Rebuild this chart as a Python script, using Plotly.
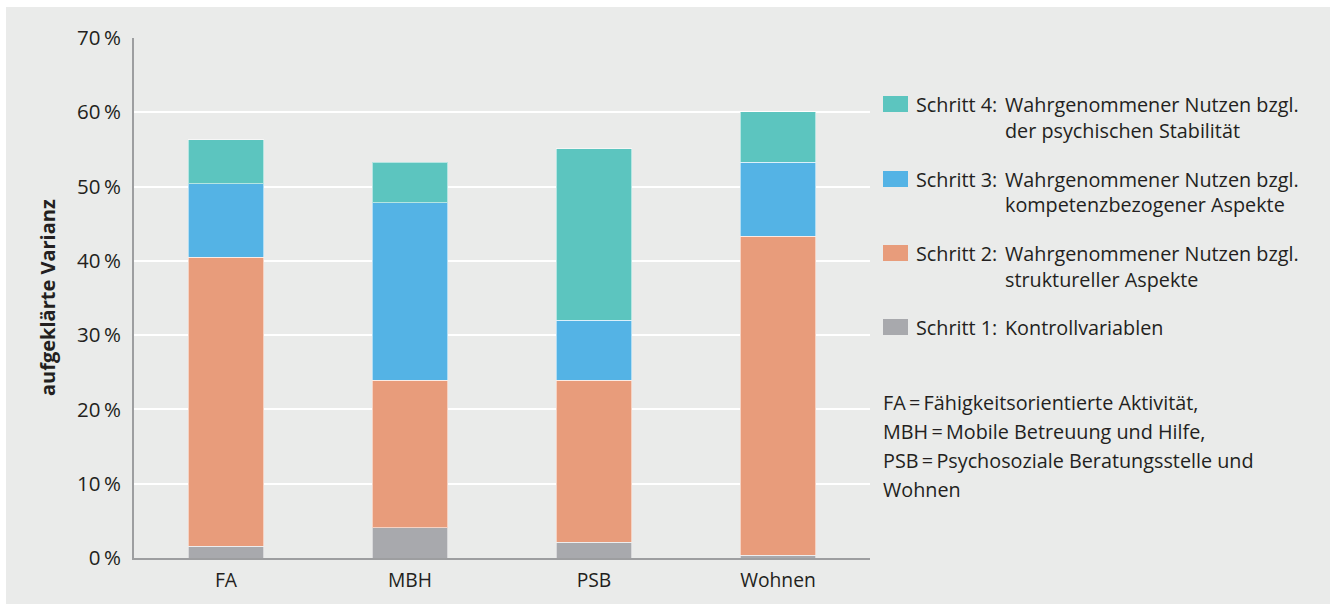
import plotly.graph_objects as go

# Explained variance (%) per service type, added per hierarchical regression step
categories = ["FA", "MBH", "PSB", "Wohnen"]
step1 = [1.6, 4.1, 2.1, 0.4]
step2 = [38.9, 19.8, 21.8, 42.9]
step3 = [9.9, 23.9, 8.1, 10.0]
step4 = [5.9, 5.5, 23.1, 6.8]

y_ticks = [0, 10, 20, 30, 40, 50, 60, 70]
y_tick_labels = [f"{v}\u2009%" for v in y_ticks]

legend_steps = ["Schritt 4:", "Schritt 3:", "Schritt 2:", "Schritt 1:"]
legend_texts = [
    ["Wahrgenommener Nutzen bzgl.", "der psychischen Stabilität"],
    ["Wahrgenommener Nutzen bzgl.", "kompetenzbezogener Aspekte"],
    ["Wahrgenommener Nutzen bzgl.", "struktureller Aspekte"],
    ["Kontrollvariablen"],
]
footnote_lines = [
    "FA\u2009=\u2009Fähigkeitsorientierte Aktivität,",
    "MBH\u2009=\u2009Mobile Betreuung und Hilfe,",
    "PSB\u2009=\u2009Psychosoziale Beratungsstelle und",
    "Wohnen",
]

colors = ["#a8a9ad", "#e89c7b", "#54b3e5", "#5cc5bf"]
FONT = "Open Sans"
TEXT = "#231f20"
BG = "#eaebea"

W, H = 1330, 605
L, R, T, B = 134, 870, 38, 558  # plot area in pixels


def px_x(px):
    return (px - L) / (R - L)


def px_y(py):
    return (B - py) / (B - T)


fig = go.Figure()
for vals, col in zip([step1, step2, step3, step4], colors):
    fig.add_trace(go.Bar(
        x=categories, y=vals,
        marker=dict(color=col, line=dict(color="rgba(255,255,255,0.55)", width=1)),
        showlegend=False,
    ))

shapes = [
    dict(type="rect", xref="paper", yref="paper",
         x0=px_x(6), x1=px_x(W + 5), y0=px_y(604), y1=px_y(7),
         fillcolor=BG, line=dict(width=0), layer="below"),
]
annotations = []

# legend swatches and labels
legend_y = [104, 179, 253, 327]
for i, (step, lines) in enumerate(zip(legend_steps, legend_texts)):
    cy = legend_y[i]
    shapes.append(dict(type="rect", xref="paper", yref="paper",
                       x0=px_x(883), x1=px_x(908), y0=px_y(cy + 8), y1=px_y(cy - 8),
                       fillcolor=colors[3 - i], line=dict(width=0)))
    annotations.append(dict(xref="paper", yref="paper", x=px_x(914), y=px_y(cy),
                            text=step, showarrow=False, xanchor="left", yanchor="middle",
                            font=dict(family=FONT, size=19.8, color=TEXT)))
    for j, line in enumerate(lines):
        annotations.append(dict(xref="paper", yref="paper", x=px_x(1003), y=px_y(cy + 26 * j),
                                text=line, showarrow=False, xanchor="left", yanchor="middle",
                                font=dict(family=FONT, size=19.8, color=TEXT)))

for j, line in enumerate(footnote_lines):
    annotations.append(dict(xref="paper", yref="paper", x=px_x(881), y=px_y(402 + 29 * j),
                            text=line, showarrow=False, xanchor="left", yanchor="middle",
                            font=dict(family=FONT, size=19.8, color=TEXT)))

annotations.append(dict(xref="paper", yref="paper", x=px_x(47), y=px_y(298),
                        text="<b>aufgeklärte Varianz</b>", textangle=-90, showarrow=False,
                        xanchor="center", yanchor="middle",
                        font=dict(family=FONT, size=20, color=TEXT)))

fig.update_layout(
    width=W, height=H,
    margin=dict(l=L, r=W - R, t=T, b=H - B, pad=0),
    paper_bgcolor="white", plot_bgcolor=BG,
    barmode="stack", bargap=0.59,
    font=dict(family=FONT, size=20, color=TEXT),
    shapes=shapes, annotations=annotations,
    xaxis=dict(range=[-0.5, 3.5], showgrid=False, showline=True, linecolor="#9d9ea0",
               linewidth=2, ticks="outside", ticklen=4, tickcolor="rgba(0,0,0,0)",
               tickfont=dict(size=19.3, color=TEXT), fixedrange=True),
    yaxis=dict(range=[0, 70], tickvals=y_ticks, ticktext=y_tick_labels, showgrid=True,
               gridcolor="white", gridwidth=2, showline=True, linecolor="#9d9ea0",
               linewidth=2, ticks="outside", ticklen=7, tickcolor="rgba(0,0,0,0)",
               zeroline=False, tickfont=dict(size=20.5, color=TEXT), fixedrange=True),
)

fig.write_html("out.html")
